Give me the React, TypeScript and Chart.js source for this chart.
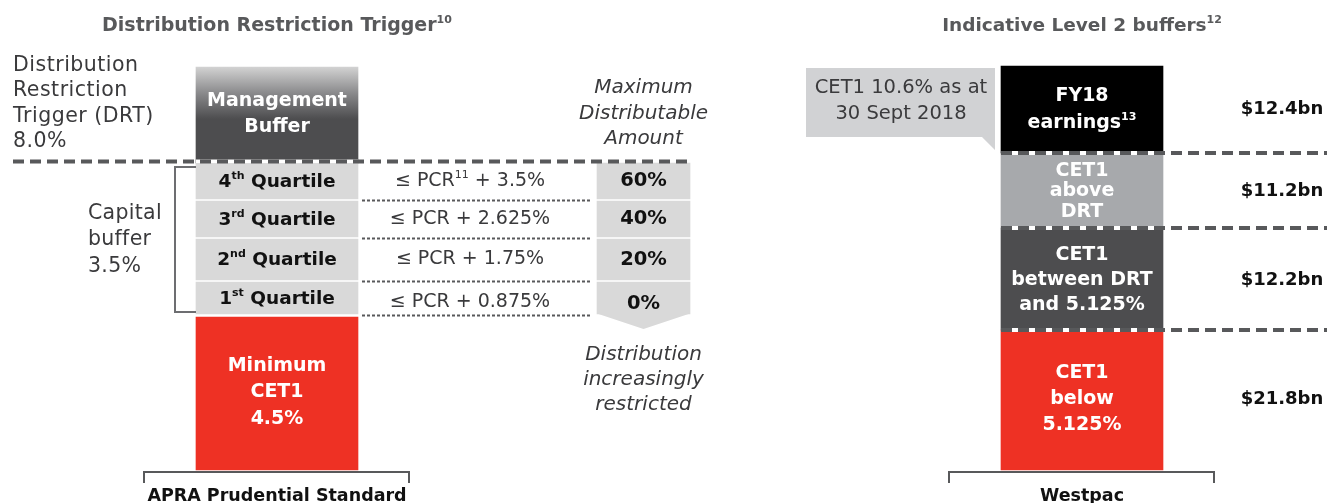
import React, { useEffect, useRef } from "react";
import { Chart, registerables } from "chart.js";

Chart.register(...registerables);

// ---------------- data ----------------
// x positions of the three columns (APRA bar, Maximum Distributable Amount column, Westpac bar)
const columnX = [0, 0.4553, 1];
const bottomLabels = ["APRA Prudential Standard", "Westpac"];
const titleLeft = "Distribution Restriction Trigger^10";
const titleRight = "Indicative Level 2 buffers^12";

// APRA stack, bottom -> top (visual heights)
const apraHeights = [156, 34, 43, 38, 36, 96];
const apraGaps = [3, 2, 2, 2, 0, 0];
const apraColors = ["#ee3124", "#d9d9d9", "#d9d9d9", "#d9d9d9", "#d9d9d9", "gradient"];
const apraLabels = [
  ["Minimum", "CET1", "4.5%"],
  ["1^st Quartile"],
  ["2^nd Quartile"],
  ["3^rd Quartile"],
  ["4^th Quartile"],
  ["Management", "Buffer"],
];
const pcrLabels = ["≤ PCR + 0.875%", "≤ PCR + 1.75%", "≤ PCR + 2.625%", "≤ PCR^11 + 3.5%"];
const mdaValues = ["0%", "20%", "40%", "60%"];

// Westpac stack, bottom -> top
const westpacHeights = [140, 102, 75, 87];
const westpacColors = ["#ee3124", "#4d4d4f", "#a7a9ac", "#000000"];
const westpacLabels = [
  ["CET1", "below", "5.125%"],
  ["CET1", "between DRT", "and 5.125%"],
  ["CET1", "above", "DRT"],
  ["FY18", "earnings^13"],
];
const westpacLineGap = [26, 25, 20.5, 27];
const westpacAmounts = ["$21.8bn", "$12.2bn", "$11.2bn", "$12.4bn"];

const drtLabel = ["Distribution", "Restriction", "Trigger (DRT)", "8.0%"];
const capitalBufferLabel = ["Capital", "buffer", "3.5%"];
const mdaHeader = ["Maximum", "Distributable", "Amount"];
const mdaFooter = ["Distribution", "increasingly", "restricted"];
const calloutLabel = ["CET1 10.6% as at", "30 Sept 2018"];

// ---------------- helpers ----------------
const FAMILY = '"DejaVu Sans", "Liberation Sans", sans-serif';
const cum = (h: number[]) => h.reduce((acc: number[], v) => { acc.push(acc[acc.length - 1] + v); return acc; }, [0]);
const apraB = cum(apraHeights);
const westB = cum(westpacHeights);

type TextOpt = {
  size: number; weight?: string; italic?: boolean; color: string;
  align?: "left" | "center" | "right"; ls?: number; baseline?: CanvasTextBaseline;
};

function parseRich(s: string) {
  const out: { t: string; sup: boolean }[] = [];
  const re = /\^(\S+)/g;
  let last = 0;
  let m: RegExpExecArray | null;
  while ((m = re.exec(s))) {
    if (m.index > last) out.push({ t: s.slice(last, m.index), sup: false });
    out.push({ t: m[1], sup: true });
    last = re.lastIndex;
  }
  if (last < s.length) out.push({ t: s.slice(last), sup: false });
  return out;
}

function drawText(ctx: CanvasRenderingContext2D, s: string, x: number, y: number, o: TextOpt) {
  const parts = parseRich(s);
  const font = (sz: number) => `${o.italic ? "italic" : "normal"} ${o.weight || "normal"} ${sz}px ${FAMILY}`;
  const supSize = Math.round(o.size * 0.6);
  ctx.save();
  (ctx as any).letterSpacing = `${o.ls || 0}px`;
  ctx.textBaseline = o.baseline || "middle";
  ctx.textAlign = "left";
  ctx.fillStyle = o.color;
  const widths = parts.map((p) => { ctx.font = font(p.sup ? supSize : o.size); return ctx.measureText(p.t).width; });
  const total = widths.reduce((a, b) => a + b, 0) - (o.ls || 0);
  let cx = o.align === "left" ? x : o.align === "right" ? x - total : x - total / 2;
  parts.forEach((p, i) => {
    ctx.font = font(p.sup ? supSize : o.size);
    ctx.fillText(p.t, cx, p.sup ? y - o.size * 0.33 : y);
    cx += widths[i];
  });
  ctx.restore();
}

function drawLines(ctx: CanvasRenderingContext2D, lines: string[], x: number, yCenter: number, gap: number, o: TextOpt) {
  const y0 = yCenter - ((lines.length - 1) * gap) / 2;
  lines.forEach((l, i) => drawText(ctx, l, x, y0 + i * gap, o));
}

function dashedLine(ctx: CanvasRenderingContext2D, x0: number, x1: number, y: number, w: number, dash: number[], color: string, under?: [number, number]) {
  ctx.save();
  if (under) {
    ctx.strokeStyle = "#ffffff";
    ctx.lineWidth = w;
    ctx.beginPath();
    ctx.moveTo(under[0], y);
    ctx.lineTo(under[1], y);
    ctx.stroke();
  }
  ctx.strokeStyle = color;
  ctx.lineWidth = w;
  ctx.setLineDash(dash);
  ctx.beginPath();
  ctx.moveTo(x0, y);
  ctx.lineTo(x1, y);
  ctx.stroke();
  ctx.restore();
}

const overlay = {
  id: "overlay",
  afterDatasetsDraw(chart: any) {
    const ctx: CanvasRenderingContext2D = chart.ctx;
    const xs = chart.scales.x;
    const ys = chart.scales.y;
    const py = (v: number) => ys.getPixelForValue(v);
    const xL = xs.getPixelForValue(columnX[0]);
    const xM = xs.getPixelForValue(columnX[1]);
    const xR = xs.getPixelForValue(columnX[2]);
    const half = 81;
    const mdaHalf = 46.5;
    const dark = "#3a3a3c";
    const lineCol = "#58595b";

    // titles
    drawText(ctx, titleLeft, xL, 26, { size: 19, weight: "bold", color: "#58595b" });
    drawText(ctx, titleRight, xR, 26, { size: 18.5, weight: "bold", color: "#58595b" });

    // DRT label
    drawLines(ctx, drtLabel, 13, 103.5, 25.5, { size: 20.5, color: dark, align: "left", ls: 0.5 });

    // capital buffer label and bracket
    drawLines(ctx, capitalBufferLabel, 88, 240, 26.5, { size: 20.5, color: dark, align: "left", ls: 0.3 });
    const bTop = py(apraB[5]) + 4;
    const bBot = py(apraB[1]) - 2;
    ctx.save();
    ctx.strokeStyle = "#6d6e71";
    ctx.lineWidth = 2;
    ctx.beginPath();
    ctx.moveTo(xL - half, bTop);
    ctx.lineTo(175, bTop);
    ctx.lineTo(175, bBot);
    ctx.lineTo(xL - half, bBot);
    ctx.stroke();
    ctx.restore();

    // APRA segment labels
    apraLabels.forEach((lines, i) => {
      const top = py(apraB[i + 1] - apraGaps[i]);
      const bot = py(apraB[i]);
      const c = (top + bot) / 2;
      const isQ = i >= 1 && i <= 4;
      drawLines(ctx, lines, xL, isQ ? c + 1 : c - 1, 26.5, {
        size: isQ ? 18.5 : 19,
        weight: "bold",
        color: isQ ? "#111111" : "#ffffff",
      });
    });

    // PCR labels and dotted separators
    pcrLabels.forEach((s, k) => {
      const i = k + 1;
      const top = py(apraB[i + 1] - apraGaps[i]);
      const bot = py(apraB[i]);
      const c = (top + bot) / 2 + (k === 0 ? 4 : 0);
      drawText(ctx, s, 470, c, { size: 19, color: dark });
      dashedLine(ctx, 362, 590, py(apraB[i]) + 1.5, 2, [3, 2], lineCol);
    });

    // MDA values + arrow
    const q1Bottom = py(apraB[1]);
    ctx.save();
    ctx.fillStyle = "#d9d9d9";
    ctx.beginPath();
    ctx.moveTo(xM - mdaHalf, q1Bottom - 0.5);
    ctx.lineTo(xM + mdaHalf, q1Bottom - 0.5);
    ctx.lineTo(xM, q1Bottom + 15);
    ctx.closePath();
    ctx.fill();
    ctx.restore();
    mdaValues.forEach((s, k) => {
      const i = k + 1;
      const top = py(apraB[i + 1] - apraGaps[i]);
      const bot = py(apraB[i]);
      const c = (top + bot) / 2 + (k === 0 ? 6 : 0);
      drawText(ctx, s, xM, c, { size: 19.5, weight: "bold", color: "#111111" });
    });
    drawLines(ctx, mdaHeader, xM, 113.5, 25.5, { size: 20, italic: true, color: dark });
    drawLines(ctx, mdaFooter, xM, 380, 25, { size: 20, italic: true, color: dark });

    // long dashed DRT line (left)
    const drtY = py(apraB[5]) - 1.5;
    dashedLine(ctx, 13, 690, drtY, 4, [11, 6], lineCol, [xL - half, xL + half]);

    // Westpac labels
    westpacLabels.forEach((lines, i) => {
      const top = py(westB[i + 1]);
      const bot = py(westB[i]);
      const c = (top + bot) / 2 + (i === 0 ? -1 : i === 1 ? 1 : i === 2 ? 1 : 0);
      drawLines(ctx, lines, xR, c, westpacLineGap[i], { size: 19, weight: "bold", color: "#ffffff" });
      drawText(ctx, westpacAmounts[i], 1282, c, { size: 18, weight: "bold", color: "#111111" });
    });
    // Westpac dashed boundaries
    for (let i = 1; i < westB.length - 1; i++) {
      dashedLine(ctx, xR - half, 1327, py(westB[i]), 4, [11, 6], lineCol, [xR - half, xR + half]);
    }

    // callout
    ctx.save();
    ctx.fillStyle = "#d1d2d4";
    ctx.beginPath();
    ctx.moveTo(806, 68);
    ctx.lineTo(995, 68);
    ctx.lineTo(995, 150);
    ctx.lineTo(982, 137);
    ctx.lineTo(806, 137);
    ctx.closePath();
    ctx.fill();
    ctx.restore();
    drawLines(ctx, calloutLabel, 901, 101, 26, { size: 19.5, color: dark });

    // bottom brackets and labels
    [xL, xR].forEach((x, i) => {
      ctx.save();
      ctx.strokeStyle = "#58595b";
      ctx.lineWidth = 2;
      ctx.beginPath();
      ctx.moveTo(x - 133, 483);
      ctx.lineTo(x - 133, 472);
      ctx.lineTo(x + 132, 472);
      ctx.lineTo(x + 132, 483);
      ctx.stroke();
      ctx.restore();
      drawText(ctx, bottomLabels[i], x, 501, { size: 17.5, weight: "bold", color: "#111111", baseline: "alphabetic" });
    });
  },
};

export default function App() {
  const ref = useRef<HTMLCanvasElement>(null);
  useEffect(() => {
    const apraData = apraHeights.map((_, i) => ({ x: columnX[0], y: [apraB[i], apraB[i + 1] - apraGaps[i]] }));
    const mdaData = mdaValues.map((_, k) => ({ x: columnX[1], y: [apraB[k + 1], apraB[k + 2] - apraGaps[k + 1]] }));
    const westData = westpacHeights.map((_, i) => ({ x: columnX[2], y: [westB[i], westB[i + 1]] }));
    const common = { grouped: false, borderWidth: 0, barPercentage: 1, categoryPercentage: 1 };
    const chart = new Chart(ref.current as HTMLCanvasElement, {
      type: "bar",
      data: {
        datasets: [
          {
            ...common,
            label: "APRA Prudential Standard",
            data: apraData as any,
            backgroundColor: (c: any) => {
              const col = apraColors[c.dataIndex];
              if (col !== "gradient") return col;
              const ys = c.chart.scales && c.chart.scales.y;
              if (!ys) return "#4d4d4f";
              const top = ys.getPixelForValue(apraB[apraB.length - 1]);
              const g = c.chart.ctx.createLinearGradient(0, top, 0, top + 52);
              g.addColorStop(0, "#d2d2d2");
              g.addColorStop(0.5, "#8a8a8c");
              g.addColorStop(1, "#4d4d4f");
              return g;
            },
            maxBarThickness: 162,
          } as any,
          {
            ...common,
            label: "Maximum Distributable Amount",
            data: mdaData as any,
            backgroundColor: "#d9d9d9",
            maxBarThickness: 93,
          } as any,
          {
            ...common,
            label: "Westpac",
            data: westData as any,
            backgroundColor: westpacColors,
            maxBarThickness: 162,
          } as any,
        ],
      },
      options: {
        responsive: false,
        animation: false,
        devicePixelRatio: 1,
        layout: { padding: 0 },
        plugins: { legend: { display: false }, tooltip: { enabled: false } },
        scales: {
          x: {
            type: "linear",
            min: -277 / 805,
            max: 1050 / 805,
            display: false,
            offset: false,
            afterBuildTicks: (scale: any) => {
              scale.ticks = columnX.map((v) => ({ value: v }));
            },
          } as any,
          y: { type: "linear", min: -33, max: 470, display: false, stacked: false },
        },
      },
      plugins: [overlay],
    });
    return () => chart.destroy();
  }, []);
  return (
    <div style={{ position: "absolute", left: 0, top: 0, width: 1327, height: 503, background: "#fff" }}>
      <canvas ref={ref} width={1327} height={503} style={{ display: "block", width: 1327, height: 503 }} />
    </div>
  );
}
